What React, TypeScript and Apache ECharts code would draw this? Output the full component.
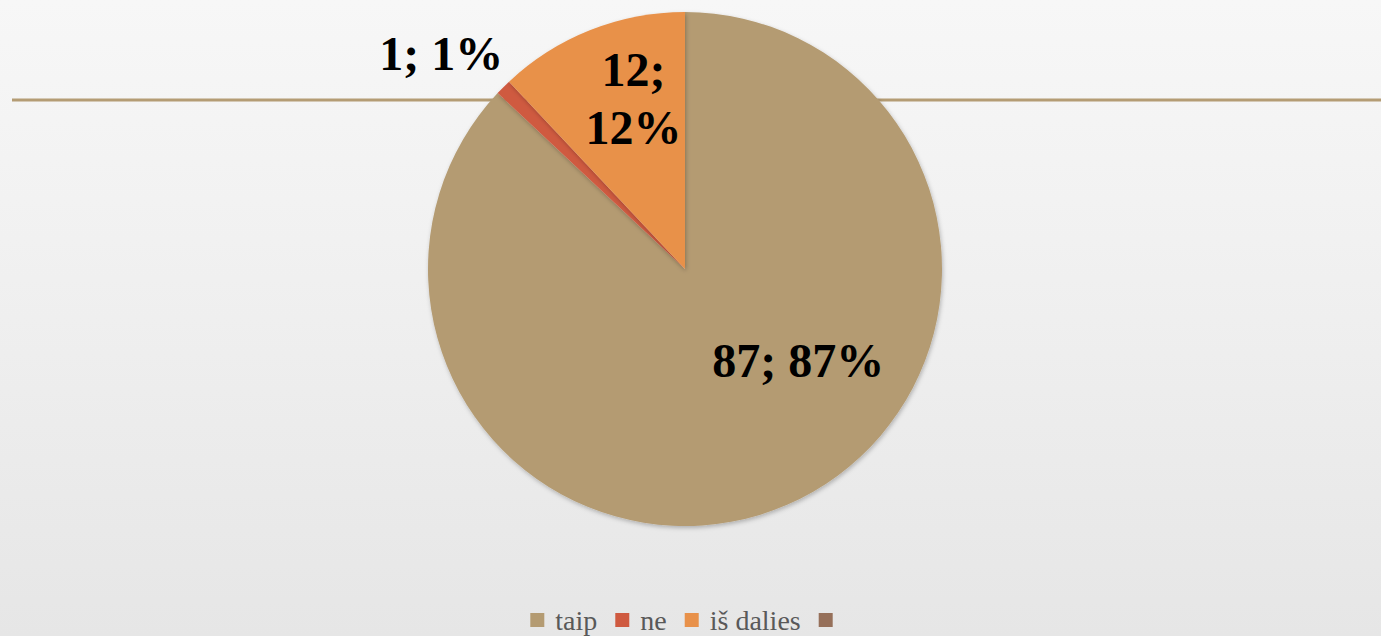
import React, { useEffect, useRef } from "react";
import * as echarts from "echarts";

const categories = ["taip", "ne", "iš dalies", " "];
const values = [87, 1, 12, 0];
const colors = ["#b49b72", "#cf5a40", "#e8914a", "#96705a"];

export default function App() {
  const ref = useRef<HTMLDivElement>(null);

  useEffect(() => {
    document.body.style.margin = "0";
    if (!ref.current) return;
    const chart = echarts.init(ref.current, null, { renderer: "svg" });

    const data = categories.map((name, i) => {
      const item: any = {
        name,
        value: values[i],
        itemStyle: { color: colors[i] },
      };
      if (i === 1) {
        item.label = { position: "outside", formatter: "{c}; {d}%" };
        item.labelLine = { show: false, length: 0, length2: 0 };
      } else if (i === 2) {
        item.label = { formatter: "{c};\n{d}%" };
      } else if (i === 3) {
        item.label = { show: false };
      }
      return item;
    });

    const offsets: Record<number, [number, number]> = {
      0: [61, -29],
      1: [5, -34],
      2: [-3, -48],
    };

    chart.setOption({
      animation: false,
      backgroundColor: "transparent",
      textStyle: { fontFamily: "Liberation Serif" },
      graphic: [
        {
          type: "line",
          z: 0,
          shape: { x1: 12, y1: 100, x2: 1381, y2: 100 },
          style: { stroke: "#b49c74", lineWidth: 3 },
        },
      ],
      legend: {
        data: categories,
        top: 601,
        left: "center",
        icon: "rect",
        itemWidth: 14,
        itemHeight: 14,
        itemGap: 18,
        selectedMode: false,
        textStyle: {
          fontFamily: "Liberation Serif",
          fontSize: 28,
          color: "#595959",
          padding: [0, 0, 0, 6],
        },
      },
      series: [
        {
          type: "pie",
          center: [685, 269],
          radius: [0, 257],
          startAngle: 90,
          clockwise: true,
          data,
          itemStyle: {
            borderWidth: 0,
            shadowBlur: 4,
            shadowColor: "rgba(0,0,0,0.25)",
            shadowOffsetX: 1,
            shadowOffsetY: 2,
          },
          label: {
            show: true,
            position: "inside",
            formatter: "{c}; {d}%",
            fontFamily: "Liberation Serif",
            fontWeight: "bold",
            fontSize: 48,
            lineHeight: 58,
            color: "#000000",
            align: "center",
          },
          labelLine: { show: false },
          labelLayout: (params: any) => {
            const o = offsets[params.dataIndex];
            return o ? { dx: o[0], dy: o[1] } : {};
          },
          emphasis: { disabled: true },
        },
      ],
    });

    return () => chart.dispose();
  }, []);

  return (
    <div
      ref={ref}
      style={{
        width: 1381,
        height: 636,
        background: "linear-gradient(180deg, #f7f7f7 0%, #efefef 50%, #e6e6e6 100%)",
      }}
    />
  );
}
